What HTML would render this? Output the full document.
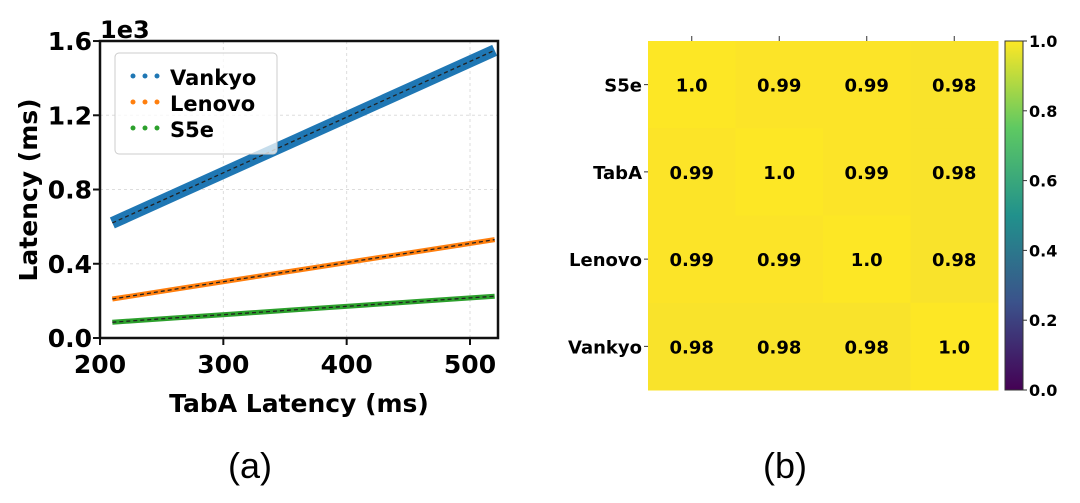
<!DOCTYPE html>
<html><head><meta charset="utf-8"><style>
body{margin:0;background:#fff;width:1080px;height:498px;overflow:hidden;font-family:"Liberation Sans",sans-serif}
svg text{font-family:"DejaVu Sans","Liberation Sans",sans-serif;font-weight:bold}
</style></head><body>
<svg id="s" width="1080" height="498"></svg>
<script>
const xs = [210, 260, 310, 360, 410, 460, 520];
const vankyo = [620, 770, 920, 1070, 1220, 1370, 1550];
const lenovo = [210, 262, 314, 365, 417, 468, 530];
const s5e = [85, 108, 130, 153, 175, 198, 225];
const xTicks = [200, 300, 400, 500];
const yTicks = [0, 0.4, 0.8, 1.2, 1.6];
const hmRows = ["S5e", "TabA", "Lenovo", "Vankyo"];
const hmVals = [[1.0,0.99,0.99,0.98],[0.99,1.0,0.99,0.98],[0.99,0.99,1.0,0.98],[0.98,0.98,0.98,1.0]];
const cbTicks = [0, 0.2, 0.4, 0.6, 0.8, 1.0];

const S = document.getElementById('s'), NS = 'http://www.w3.org/2000/svg';
function mk(tag, at, txt){const e=document.createElementNS(NS,tag);for(const k in at)e.setAttribute(k,at[k]);if(txt!==undefined)e.textContent=txt;S.appendChild(e);return e;}
const X = v => 100 + (v-200)*(370/300);
const Y = v => 338 - v/1000*185.6;

for (const t of xTicks){ const g=mk('line',{x1:X(t),x2:X(t),y1:41,y2:338,stroke:'#ddd','stroke-dasharray':'3,3'});   }
for (const t of yTicks){ const g=mk('line',{x1:100,x2:498,y1:Y(t*1000),y2:Y(t*1000),stroke:'#ddd','stroke-dasharray':'3,3'});   }

const series=[["vankyo",vankyo,"#1f77b4",12],["lenovo",lenovo,"#ff7f0e",5],["s5e",s5e,"#2ca02c",5]];
for (const [n,arr,c,w] of series){
  const pts = xs.map((x,i)=>X(x)+','+Y(arr[i])).join(' ');
  const b=mk('polyline',{points:pts,fill:'none',stroke:c,'stroke-width':w,'stroke-linecap':'butt'});
   
  const f=mk('polyline',{points:pts,fill:'none',stroke:'#222','stroke-width':1.3,'stroke-dasharray':'4,3'});
   
}
const fr=mk('rect',{x:100,y:41,width:398,height:297,fill:'none',stroke:'#111','stroke-width':2.5});
 
for (const t of xTicks){
  mk('line',{x1:X(t),x2:X(t),y1:338,y2:345,stroke:'#111','stroke-width':2});
  const l=mk('text',{x:X(t),y:373,'font-size':25,'text-anchor':'middle'},t);
   
}
for (const t of yTicks){
  mk('line',{x1:93,x2:100,y1:Y(t*1000),y2:Y(t*1000),stroke:'#111','stroke-width':2});
  const l=mk('text',{x:92,y:Y(t*1000)+9,'font-size':25,'text-anchor':'end'},t.toFixed(1));
   
}
const e3=mk('text',{x:100,y:38,'font-size':24},'1e3');  
const xt=mk('text',{x:299,y:412,'font-size':25,'text-anchor':'middle'},'TabA Latency (ms)');  
const yt=mk('text',{x:0,y:0,'font-size':25,'text-anchor':'middle',transform:'translate(37,190) rotate(-90)'},'Latency (ms)');  
const lg=mk('rect',{x:115,y:53,width:162,height:101,rx:4,fill:'rgba(255,255,255,0.75)',stroke:'#ccc'});
 
[["Vankyo","#1f77b4",78],["Lenovo","#ff7f0e",104],["S5e","#2ca02c",130]].forEach(([n,c,y])=>{
  for(let k=0;k<3;k++) mk('circle',{cx:133+k*12,cy:y-2,r:2.5,fill:c});
  const t=mk('text',{x:170,y:y+7,'font-size':21},n);  
});

const hx=648, hy=41, cw=350/4, ch=349/4;
hmRows.forEach((r,i)=>{
  hmVals[i].forEach((v,j)=>{
    const col = v>=1?'#fde725':(v>=0.99?'#fce428':'#f9e32b');
    const c=mk('rect',{x:hx+j*cw,y:hy+i*ch,width:cw+0.5,height:ch+0.5,fill:col});
     
    const t=mk('text',{x:hx+j*cw+cw/2,y:hy+i*ch+ch/2+7,'font-size':18,'text-anchor':'middle'},v.toFixed(v>=1?1:2));
     
  });
  mk('line',{x1:hx-4,x2:hx,y1:hy+i*ch+ch/2,y2:hy+i*ch+ch/2,stroke:'#333'});
  const l=mk('text',{x:hx-6,y:hy+i*ch+ch/2+7,'font-size':18,'text-anchor':'end'},r);
   
});
for(let j=0;j<4;j++) mk('line',{x1:hx+j*cw+cw/2,x2:hx+j*cw+cw/2,y1:hy-5,y2:hy,stroke:'#333'});
const defs=mk('defs',{});
const lgr=document.createElementNS(NS,'linearGradient'); lgr.setAttribute('id','vir'); lgr.setAttribute('x1','0');lgr.setAttribute('x2','0');lgr.setAttribute('y1','1');lgr.setAttribute('y2','0');
[['0','#440154'],['0.25','#3b528b'],['0.5','#21918c'],['0.75','#5ec962'],['1','#fde725']].forEach(([o,c])=>{const s=document.createElementNS(NS,'stop');s.setAttribute('offset',o);s.setAttribute('stop-color',c);lgr.appendChild(s);});
defs.appendChild(lgr);
const cb=mk('rect',{x:1005,y:41,width:18,height:349,fill:'url(#vir)',stroke:'#333'});
 
for(const t of cbTicks){
  const y=390-t*349;
  mk('line',{x1:1023,x2:1027,y1:y,y2:y,stroke:'#333'});
  const l=mk('text',{x:1029,y:y+6,'font-size':16},t.toFixed(1));  
}
const a=mk('text',{x:250,y:478,'font-size':36,'text-anchor':'middle',style:'font-family:"Liberation Sans",sans-serif;font-weight:normal'},'(a)');  
const b=mk('text',{x:785,y:478,'font-size':36,'text-anchor':'middle',style:'font-family:"Liberation Sans",sans-serif;font-weight:normal'},'(b)');  
</script></body></html>
